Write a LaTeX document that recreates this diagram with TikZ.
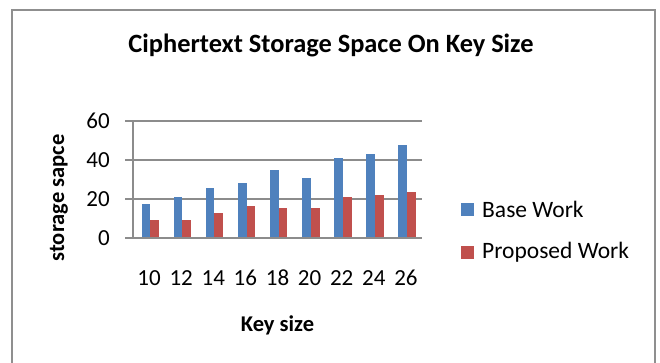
\documentclass[tikz,border=0pt]{standalone}
\usepackage{fontspec}
\setmainfont{Carlito}
\definecolor{baseblue}{HTML}{4F81BD}
\definecolor{propred}{HTML}{C0504D}
\definecolor{gridgray}{HTML}{8C8C8C}
\definecolor{framegray}{HTML}{8F8F8F}
\begin{document}
\begin{tikzpicture}[x=1pt,y=-1pt,
  bluebar/.style={fill=baseblue,draw=none},
  redbar/.style={fill=propred,draw=none},
  gridline/.style={draw=gridgray,line width=1.2pt},
  ticklab/.style={font=\fontsize{23}{23}\selectfont,inner sep=0pt},
  axtitle/.style={font=\bfseries\fontsize{22.5}{22.5}\selectfont,inner sep=0pt},
  legtext/.style={font=\fontsize{23.5}{23.5}\selectfont,anchor=west,inner sep=0pt}]
\useasboundingbox (0,0) rectangle (660,362);
\clip (0,0) rectangle (660,362);
\fill[white] (0,0) rectangle (660,362);
\draw[framegray,line width=1.5pt] (12,10) rectangle (655,380);
% title
\node[font=\bfseries\fontsize{26.4}{26.4}\selectfont,inner sep=0pt] (title) at (331,45) {Ciphertext Storage Space On Key Size};
% grid
\foreach \v/\yy in {0/238,20/199,40/160,60/121}{
  \draw[gridline] (125,\yy) -- (422,\yy);
  \node[ticklab,anchor=east] (t\v) at (110,\yy) {\v};
}
\draw[gridline] (133,121) -- (133,238);
% bars
\foreach \i/\b/\r/\lab in {0/17.3/9.1/10,1/20.9/9.1/12,2/25.5/12.7/14,3/28.4/16.4/16,4/34.7/15.5/18,5/30.9/15.5/20,6/41.2/20.9/22,7/43.2/21.9/24,8/47.7/23.7/26}{
  \pgfmathsetmacro{\cx}{133+32.11*(\i+0.5)}
  \pgfmathsetmacro{\by}{238-\b*1.95}
  \pgfmathsetmacro{\ry}{238-\r*1.95}
  \fill[bluebar] (\cx-7.5,\by) rectangle (\cx+1.2,237.4);
  \fill[redbar] (\cx+1.2,\ry) rectangle (\cx+9.9,237.4);
  \node[ticklab] (c\lab) at (\cx,278) {\lab};
}
% axis titles
\node[axtitle,rotate=90] (ytitle) at (59,198) {storage sapce};
\node[axtitle] (xtitle) at (277.5,325) {Key size};
% legend
\fill[baseblue] (461,203) rectangle (474,216);
\node[legtext] (lb) at (482,209.5) {Base Work};
\fill[propred] (461,246) rectangle (474,259);
\node[legtext] (lr) at (482,252.5) {Proposed Work};
\end{tikzpicture}
\end{document}
